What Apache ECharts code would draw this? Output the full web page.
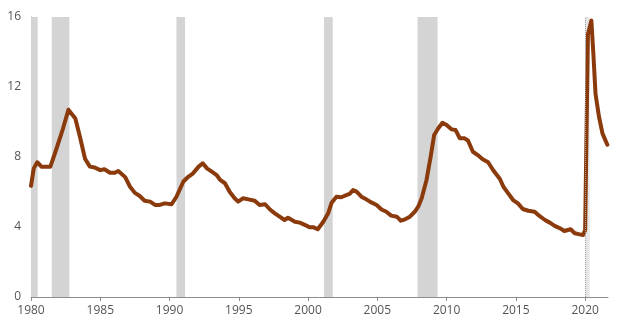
<!DOCTYPE html>
<html>
<head>
<meta charset="utf-8">
<script src="https://cdn.jsdelivr.net/npm/echarts@6/dist/echarts.min.js"></script>
<style>
  html, body { margin: 0; padding: 0; background: #fff; }
  #main { width: 629px; height: 331px; }
</style>
</head>
<body>
<div id="main"></div>
<script>
// 时间（年份小数）与数值
var dates = [
  1980.0, 1980.2, 1980.45, 1980.75, 1981.0, 1981.4, 1981.85, 1982.3, 1982.7, 1983.2,
  1983.55, 1983.9, 1984.25, 1984.6, 1985.0, 1985.3, 1985.7, 1986.05, 1986.3, 1986.8,
  1987.15, 1987.5, 1987.85, 1988.2, 1988.6, 1988.95, 1989.3, 1989.65, 1990.15, 1990.5,
  1991.0, 1991.35, 1991.7, 1992.1, 1992.4, 1992.7, 1993.05, 1993.4, 1993.65, 1994.0,
  1994.35, 1994.7, 1994.95, 1995.3, 1995.7, 1996.15, 1996.5, 1996.9, 1997.25, 1997.6,
  1997.95, 1998.3, 1998.55, 1999.05, 1999.4, 1999.8, 2000.1, 2000.4, 2000.7, 2001.1,
  2001.45, 2001.7, 2002.05, 2002.4, 2002.8, 2003.0, 2003.25, 2003.5, 2003.85, 2004.2,
  2004.6, 2004.95, 2005.3, 2005.65, 2006.0, 2006.4, 2006.7, 2007.0, 2007.35, 2007.7,
  2007.95, 2008.2, 2008.55, 2008.85, 2009.1, 2009.4, 2009.7, 2010.0, 2010.35, 2010.65,
  2010.95, 2011.3, 2011.55, 2011.9, 2012.25, 2012.6, 2013.0, 2013.35, 2013.85, 2014.1,
  2014.45, 2014.8, 2015.15, 2015.5, 2015.9, 2016.35, 2016.7, 2017.1, 2017.45, 2017.8,
  2018.2, 2018.5, 2018.95, 2019.25, 2019.6, 2019.85, 2020.0, 2020.2, 2020.45, 2020.6,
  2020.75, 2021.0, 2021.25, 2021.6
];
var rate = [
  6.35, 7.35, 7.7, 7.45, 7.45, 7.45, 8.5, 9.6, 10.7, 10.2,
  9.1, 7.9, 7.45, 7.4, 7.25, 7.3, 7.1, 7.1, 7.2, 6.85,
  6.3, 5.95, 5.77, 5.5, 5.45, 5.26, 5.26, 5.35, 5.3, 5.73,
  6.6, 6.87, 7.07, 7.45, 7.64, 7.35, 7.16, 6.97, 6.69, 6.5,
  6.0, 5.64, 5.45, 5.64, 5.58, 5.5, 5.26, 5.3, 5.0, 4.78,
  4.59, 4.4, 4.53, 4.3, 4.25, 4.11, 3.98, 3.98, 3.87, 4.3,
  4.78, 5.39, 5.73, 5.7, 5.83, 5.89, 6.11, 6.02, 5.73, 5.58,
  5.39, 5.26, 5.0, 4.87, 4.65, 4.59, 4.36, 4.44, 4.59, 4.87,
  5.16, 5.64, 6.69, 8.02, 9.26, 9.64, 9.96, 9.83, 9.58, 9.54,
  9.07, 9.07, 8.93, 8.3, 8.11, 7.87, 7.7, 7.26, 6.74, 6.3,
  5.92, 5.54, 5.35, 5.03, 4.93, 4.87, 4.63, 4.4, 4.25, 4.06,
  3.92, 3.77, 3.87, 3.64, 3.58, 3.54, 3.83, 15.0, 15.8, 13.8,
  11.6, 10.3, 9.35, 8.7
];
// 衰退期（阴影）
var recessionStart = [1980.0, 1981.5, 1990.5, 2001.15, 2007.9];
var recessionEnd = [1980.48, 1982.77, 1991.12, 2001.78, 2009.35];
var covidStart = 2020.0;
var covidEnd = 2020.33;
// 刻度
var xTicks = [1980, 1985, 1990, 1995, 2000, 2005, 2010, 2015, 2020];
var yTicks = [0, 4, 8, 12, 16];

var myChart = echarts.init(document.getElementById("main"));

var areas = recessionStart.map(function (s, i) {
  return [{ xAxis: s }, { xAxis: recessionEnd[i] }];
});
areas.push([
  { xAxis: covidStart, itemStyle: { color: "#e6e6e6" } },
  { xAxis: covidEnd }
]);

myChart.setOption({
  animation: false,
  textStyle: { fontFamily: "Open Sans" },
  grid: { left: 31, right: 21, top: 17, bottom: 34 },
  xAxis: {
    type: "value",
    min: 1980,
    max: 2021.65,
    splitLine: { show: false },
    axisLine: { lineStyle: { color: "#8c8c8c", width: 1 } },
    axisTick: {
      length: 4,
      customValues: xTicks,
      lineStyle: { color: "#8c8c8c" }
    },
    axisLabel: {
      customValues: xTicks,
      formatter: function (v) { return String(Math.round(v)); },
      color: "#555",
      fontSize: 12,
      margin: 8
    }
  },
  yAxis: {
    type: "value",
    min: 0,
    max: 16,
    interval: 4,
    splitLine: { show: false },
    axisLine: { show: true, lineStyle: { color: "#8c8c8c", width: 1 } },
    axisTick: {
      show: true,
      inside: true,
      length: 4,
      customValues: yTicks,
      lineStyle: { color: "#8c8c8c" }
    },
    axisLabel: {
      customValues: yTicks,
      color: "#555",
      fontSize: 12,
      margin: 10
    }
  },
  series: [
    // 阴影区域
    {
      type: "line",
      data: [],
      z: 1,
      silent: true,
      markArea: {
        silent: true,
        itemStyle: { color: "#d4d4d4" },
        data: areas
      },
      markLine: {
        silent: true,
        symbol: "none",
        label: { show: false },
        lineStyle: { color: "#a0a0a0", type: "dotted", width: 1 },
        data: [{ xAxis: covidStart }]
      }
    },
    // 折线
    {
      type: "line",
      z: 3,
      data: dates.map(function (d, i) { return [d, rate[i]]; }),
      showSymbol: false,
      lineStyle: { color: "#8b3a0c", width: 4, join: "round", cap: "round" },
      itemStyle: { color: "#8b3a0c" }
    }
  ]
});
</script>
</body>
</html>
